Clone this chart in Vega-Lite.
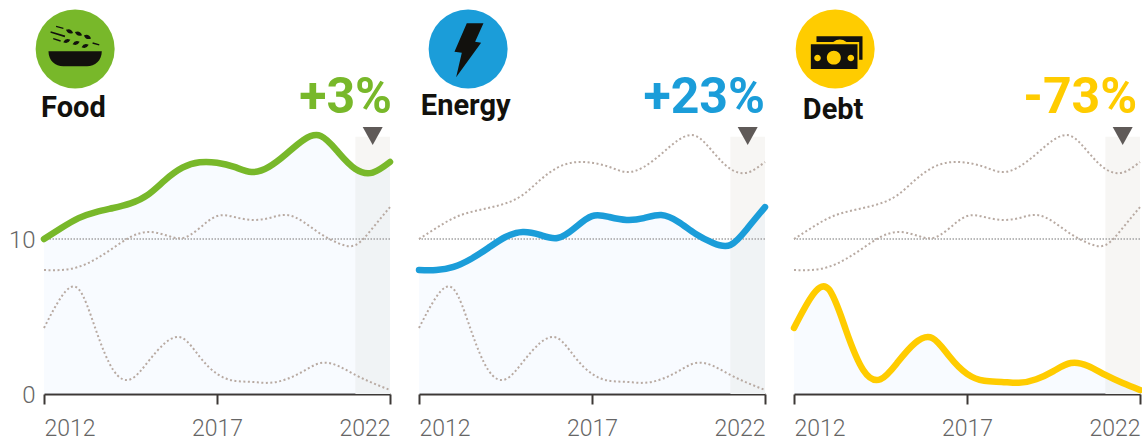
{
"$schema":"https://vega.github.io/schema/vega-lite/v6.json",
"background":"white",
"padding":{"left":8,"top":0,"right":0,"bottom":0},
"bounds":"flush",
"spacing":29,
"config":{"view":{"stroke":null},"axis":{"labelFont":"Roboto","labelFontWeight":300,"labelColor":"#666666","labelFontSize":24,"title":null,"grid":false}},
"datasets":{
"series":[
{"year":2012,"Food":10.0,"Energy":8.0,"Debt":4.26},
{"year":2012.5,"Food":10.71,"Energy":8.0,"Debt":6.26},
{"year":2013,"Food":11.35,"Energy":8.2,"Debt":6.77},
{"year":2013.5,"Food":11.74,"Energy":8.71,"Debt":4.13},
{"year":2014,"Food":12.0,"Energy":9.42,"Debt":1.55},
{"year":2014.5,"Food":12.3,"Energy":10.13,"Debt":0.95},
{"year":2015,"Food":12.85,"Energy":10.45,"Debt":2.06},
{"year":2015.5,"Food":13.8,"Energy":10.26,"Debt":3.29},
{"year":2016,"Food":14.6,"Energy":10.06,"Debt":3.61},
{"year":2016.5,"Food":14.95,"Energy":10.71,"Debt":2.4},
{"year":2017,"Food":14.92,"Energy":11.48,"Debt":1.3},
{"year":2017.5,"Food":14.65,"Energy":11.42,"Debt":0.85},
{"year":2018,"Food":14.32,"Energy":11.23,"Debt":0.78},
{"year":2018.5,"Food":14.65,"Energy":11.35,"Debt":0.72},
{"year":2019,"Food":15.48,"Energy":11.55,"Debt":0.95},
{"year":2019.5,"Food":16.39,"Energy":11.1,"Debt":1.48},
{"year":2020,"Food":16.65,"Energy":10.32,"Debt":2.0},
{"year":2020.5,"Food":15.61,"Energy":9.74,"Debt":1.81},
{"year":2021,"Food":14.52,"Energy":9.61,"Debt":1.23},
{"year":2021.5,"Food":14.29,"Energy":10.71,"Debt":0.71},
{"year":2022,"Food":14.97,"Energy":12.06,"Debt":0.26}
]},
"hconcat":[
{"width":346,"height":394,"layer":[
{"data":{"values":[{"start":2021,"end":2022,"low":0,"high":16.6}]},"mark":{"type":"rect","fill":"#f7f6f4"},"encoding":{"x":{"field":"start","type":"quantitative","scale":{"domain":[2012,2022],"nice":false},"axis":{"values":[2012,2017,2022],"format":"d","labelFlush":true,"tickSize":10,"tickWidth":2,"tickColor":"#3c3836","domainColor":"#3c3836","domainWidth":2,"labelPadding":13,"labelFontSize":23}},"x2":{"field":"end"},"y":{"field":"low","type":"quantitative","scale":{"domain":[0,25.42],"nice":false},"axis":{"values":[0,10],"domain":false,"ticks":false,"labelPadding":9,"labelOffset":1.5}},"y2":{"field":"high"}}},
{"data":{"name":"series"},"mark":{"type":"area","interpolate":"natural","fill":"#b9d7ff","opacity":0.1},"encoding":{"x":{"field":"year","type":"quantitative"},"y":{"field":"Food","type":"quantitative"}}},
{"data":{"values":[{"level":10}]},"mark":{"type":"rule","stroke":"#a3a3a3","strokeWidth":1.5,"strokeDash":[1.5,1.5]},"encoding":{"y":{"field":"level","type":"quantitative"}}},
{"data":{"name":"series"},"mark":{"type":"line","interpolate":"natural","stroke":"#b8aaa2","strokeWidth":2,"strokeDash":[2,2.5]},"encoding":{"x":{"field":"year","type":"quantitative"},"y":{"field":"Energy","type":"quantitative"}}},
{"data":{"name":"series"},"mark":{"type":"line","interpolate":"natural","stroke":"#b8aaa2","strokeWidth":2,"strokeDash":[2,2.5]},"encoding":{"x":{"field":"year","type":"quantitative"},"y":{"field":"Debt","type":"quantitative"}}},
{"data":{"name":"series"},"mark":{"type":"line","interpolate":"natural","stroke":"#78b82a","strokeWidth":6.5,"strokeCap":"round"},"encoding":{"x":{"field":"year","type":"quantitative"},"y":{"field":"Food","type":"quantitative"}}},
{"data":{"values":[{"year":2021.5,"value":16.65}]},"mark":{"type":"point","filled":true,"opacity":1,"fill":"#5f5a58","strokeWidth":0,"size":400,"shape":"M-1,-0.9L1,-0.9L0,0.9Z"},"encoding":{"x":{"field":"year","type":"quantitative"},"y":{"field":"value","type":"quantitative"}}},
{"data":{"values":[{"year":2012.9,"value":22.26}]},"mark":{"type":"point","filled":true,"opacity":1,"fill":"#78b82a","strokeWidth":0,"size":6241,"shape":"circle"},"encoding":{"x":{"field":"year","type":"quantitative"},"y":{"field":"value","type":"quantitative"}}},
{"data":{"values":[{"year":2012.9,"value":22.26}]},"mark":{"type":"point","filled":true,"opacity":1,"fill":"#12110d","strokeWidth":0,"size":6241,"shape":"M-.675,.06L.675,.06C.675,.3 .5,.44 .3,.44L-.3,.44C-.5,.44 -.675,.3 -.675,.06ZM-.233,-.487Q-.183,-.357 -.053,-.407Q-.103,-.537 -.233,-.487ZM-.006,-.428Q.044,-.298 .174,-.348Q.124,-.478 -.006,-.428ZM.222,-.344Q.272,-.214 .402,-.264Q.352,-.394 .222,-.344ZM-.301,-.173Q-.181,-.113 -.121,-.233Q-.241,-.293 -.301,-.173ZM-.065,-.122Q.055,-.062 .115,-.182Q-.005,-.242 -.065,-.122ZM.163,-.046Q.283,.014 .343,-.106Q.223,-.166 .163,-.046ZM-.48,-.59L-.295,-.54L-.3,-.505L-.485,-.555ZM-.616,-.45L-.253,-.34L-.263,-.3L-.626,-.41ZM-.55,-.28L-.363,-.22L-.373,-.185L-.56,-.245ZM.447,-.17L.616,-.12L.606,-.085L.437,-.135Z"},"encoding":{"x":{"field":"year","type":"quantitative"},"y":{"field":"value","type":"quantitative"}}},
{"data":{"values":[{"year":2012.85,"value":17.87,"label":"Food"}]},"mark":{"type":"text","font":"Roboto","fontWeight":700,"fontSize":29,"fill":"#12110d","align":"center","baseline":"alphabetic"},"encoding":{"x":{"field":"year","type":"quantitative"},"y":{"field":"value","type":"quantitative"},"text":{"field":"label"}}},
{"data":{"values":[{"year":2022.06,"value":18.13,"label":"+3%"}]},"mark":{"type":"text","font":"Roboto","fontWeight":700,"fontSize":50,"fill":"#78b82a","align":"right","baseline":"alphabetic"},"encoding":{"x":{"field":"year","type":"quantitative"},"y":{"field":"value","type":"quantitative"},"text":{"field":"label"}}}
]},
{"width":346,"height":394,"layer":[
{"data":{"values":[{"start":2021,"end":2022,"low":0,"high":16.6}]},"mark":{"type":"rect","fill":"#f7f6f4"},"encoding":{"x":{"field":"start","type":"quantitative","scale":{"domain":[2012,2022],"nice":false},"axis":{"values":[2012,2017,2022],"format":"d","labelFlush":true,"tickSize":10,"tickWidth":2,"tickColor":"#3c3836","domainColor":"#3c3836","domainWidth":2,"labelPadding":13,"labelFontSize":23}},"x2":{"field":"end"},"y":{"field":"low","type":"quantitative","scale":{"domain":[0,25.42],"nice":false},"axis":null},"y2":{"field":"high"}}},
{"data":{"name":"series"},"mark":{"type":"area","interpolate":"natural","fill":"#b9d7ff","opacity":0.1},"encoding":{"x":{"field":"year","type":"quantitative"},"y":{"field":"Energy","type":"quantitative"}}},
{"data":{"values":[{"level":10}]},"mark":{"type":"rule","stroke":"#a3a3a3","strokeWidth":1.5,"strokeDash":[1.5,1.5]},"encoding":{"y":{"field":"level","type":"quantitative"}}},
{"data":{"name":"series"},"mark":{"type":"line","interpolate":"natural","stroke":"#b8aaa2","strokeWidth":2,"strokeDash":[2,2.5]},"encoding":{"x":{"field":"year","type":"quantitative"},"y":{"field":"Food","type":"quantitative"}}},
{"data":{"name":"series"},"mark":{"type":"line","interpolate":"natural","stroke":"#b8aaa2","strokeWidth":2,"strokeDash":[2,2.5]},"encoding":{"x":{"field":"year","type":"quantitative"},"y":{"field":"Debt","type":"quantitative"}}},
{"data":{"name":"series"},"mark":{"type":"line","interpolate":"natural","stroke":"#1b9dd9","strokeWidth":6.5,"strokeCap":"round"},"encoding":{"x":{"field":"year","type":"quantitative"},"y":{"field":"Energy","type":"quantitative"}}},
{"data":{"values":[{"year":2021.5,"value":16.65}]},"mark":{"type":"point","filled":true,"opacity":1,"fill":"#5f5a58","strokeWidth":0,"size":400,"shape":"M-1,-0.9L1,-0.9L0,0.9Z"},"encoding":{"x":{"field":"year","type":"quantitative"},"y":{"field":"value","type":"quantitative"}}},
{"data":{"values":[{"year":2013.42,"value":22.26}]},"mark":{"type":"point","filled":true,"opacity":1,"fill":"#1b9dd9","strokeWidth":0,"size":6241,"shape":"circle"},"encoding":{"x":{"field":"year","type":"quantitative"},"y":{"field":"value","type":"quantitative"}}},
{"data":{"values":[{"year":2013.42,"value":22.26}]},"mark":{"type":"point","filled":true,"opacity":1,"fill":"#12110d","strokeWidth":0,"size":6241,"shape":"M-.034,-.65L.388,-.65L.177,-.186L.329,-.16L-.304,.717L-.16,.093L-.346,.068Z"},"encoding":{"x":{"field":"year","type":"quantitative"},"y":{"field":"value","type":"quantitative"}}},
{"data":{"values":[{"year":2013.35,"value":18.0,"label":"Energy"}]},"mark":{"type":"text","font":"Roboto","fontWeight":700,"fontSize":29,"fill":"#12110d","align":"center","baseline":"alphabetic"},"encoding":{"x":{"field":"year","type":"quantitative"},"y":{"field":"value","type":"quantitative"},"text":{"field":"label"}}},
{"data":{"values":[{"year":2022.0,"value":18.13,"label":"+23%"}]},"mark":{"type":"text","font":"Roboto","fontWeight":700,"fontSize":50,"fill":"#1b9dd9","align":"right","baseline":"alphabetic"},"encoding":{"x":{"field":"year","type":"quantitative"},"y":{"field":"value","type":"quantitative"},"text":{"field":"label"}}}
]},
{"width":346,"height":394,"layer":[
{"data":{"values":[{"start":2021,"end":2022,"low":0,"high":16.6}]},"mark":{"type":"rect","fill":"#f7f6f4"},"encoding":{"x":{"field":"start","type":"quantitative","scale":{"domain":[2012,2022],"nice":false},"axis":{"values":[2012,2017,2022],"format":"d","labelFlush":true,"tickSize":10,"tickWidth":2,"tickColor":"#3c3836","domainColor":"#3c3836","domainWidth":2,"labelPadding":13,"labelFontSize":23}},"x2":{"field":"end"},"y":{"field":"low","type":"quantitative","scale":{"domain":[0,25.42],"nice":false},"axis":null},"y2":{"field":"high"}}},
{"data":{"name":"series"},"mark":{"type":"area","interpolate":"natural","fill":"#b9d7ff","opacity":0.1},"encoding":{"x":{"field":"year","type":"quantitative"},"y":{"field":"Debt","type":"quantitative"}}},
{"data":{"values":[{"level":10}]},"mark":{"type":"rule","stroke":"#a3a3a3","strokeWidth":1.5,"strokeDash":[1.5,1.5]},"encoding":{"y":{"field":"level","type":"quantitative"}}},
{"data":{"name":"series"},"mark":{"type":"line","interpolate":"natural","stroke":"#b8aaa2","strokeWidth":2,"strokeDash":[2,2.5]},"encoding":{"x":{"field":"year","type":"quantitative"},"y":{"field":"Food","type":"quantitative"}}},
{"data":{"name":"series"},"mark":{"type":"line","interpolate":"natural","stroke":"#b8aaa2","strokeWidth":2,"strokeDash":[2,2.5]},"encoding":{"x":{"field":"year","type":"quantitative"},"y":{"field":"Energy","type":"quantitative"}}},
{"data":{"name":"series"},"mark":{"type":"line","interpolate":"natural","stroke":"#ffcc00","strokeWidth":6.5,"strokeCap":"round"},"encoding":{"x":{"field":"year","type":"quantitative"},"y":{"field":"Debt","type":"quantitative"}}},
{"data":{"values":[{"year":2021.5,"value":16.65}]},"mark":{"type":"point","filled":true,"opacity":1,"fill":"#5f5a58","strokeWidth":0,"size":400,"shape":"M-1,-0.9L1,-0.9L0,0.9Z"},"encoding":{"x":{"field":"year","type":"quantitative"},"y":{"field":"value","type":"quantitative"}}},
{"data":{"values":[{"year":2013.19,"value":22.26}]},"mark":{"type":"point","filled":true,"opacity":1,"fill":"#ffcc00","strokeWidth":0,"size":6241,"shape":"circle"},"encoding":{"x":{"field":"year","type":"quantitative"},"y":{"field":"value","type":"quantitative"}}},
{"data":{"values":[{"year":2013.19,"value":22.26}]},"mark":{"type":"point","filled":true,"opacity":1,"fill":"#12110d","strokeWidth":0,"size":6241,"shape":"M-.473,-.321L.692,-.321L.692,.27L.608,.27L.608,-.177L.287,-.177Q.118,-.3 -.05,-.177L-.473,-.177ZM-.616,-.118L.565,-.118L.565,.506L-.616,.506ZM-.211,.219A.177,.177 0 1 0 .143,.219A.177,.177 0 1 0 -.211,.219ZM-.531,.228A.084,.084 0 1 0 -.363,.228A.084,.084 0 1 0 -.531,.228ZM.313,.228A.084,.084 0 1 0 .481,.228A.084,.084 0 1 0 .313,.228Z"},"encoding":{"x":{"field":"year","type":"quantitative"},"y":{"field":"value","type":"quantitative"}}},
{"data":{"values":[{"year":2013.13,"value":17.75,"label":"Debt"}]},"mark":{"type":"text","font":"Roboto","fontWeight":700,"fontSize":29,"fill":"#12110d","align":"center","baseline":"alphabetic"},"encoding":{"x":{"field":"year","type":"quantitative"},"y":{"field":"value","type":"quantitative"},"text":{"field":"label"}}},
{"data":{"values":[{"year":2021.92,"value":18.13,"label":"-73%"}]},"mark":{"type":"text","font":"Roboto","fontWeight":700,"fontSize":50,"fill":"#ffcc00","align":"right","baseline":"alphabetic"},"encoding":{"x":{"field":"year","type":"quantitative"},"y":{"field":"value","type":"quantitative"},"text":{"field":"label"}}}
]}
]
}
